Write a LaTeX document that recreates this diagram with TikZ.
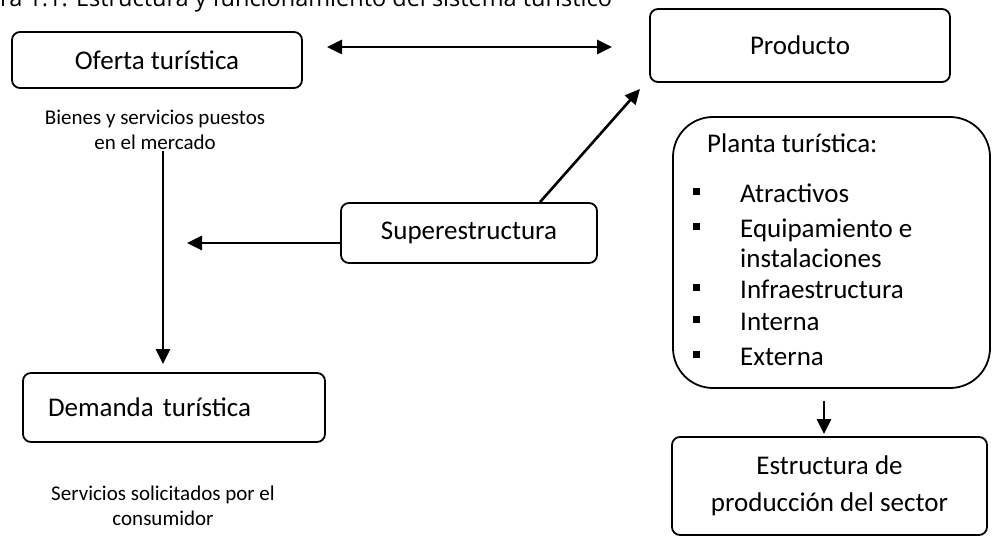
\documentclass[tikz,border=0pt]{standalone}
\usepackage{fontspec}
\setmainfont{Carlito}
\newfontfamily\titlefont{Open Sans}
\usetikzlibrary{arrows.meta}
\begin{document}
\begin{tikzpicture}[x=1pt,y=-1pt,
  box/.style={draw, line width=1.8pt, rounded corners=8pt, inner sep=0pt, align=center, font=\fontsize{27}{37}\selectfont},
  note/.style={align=center, font=\fontsize{21}{25}\selectfont},
  itemtext/.style={anchor=base west, inner sep=0pt, font=\fontsize{27}{33}\selectfont},
  bulletsq/.style={fill=black, minimum size=7pt, inner sep=0pt},
  arr/.style={line width=2.6pt, -{Triangle[length=15pt,width=14pt]}},
  darr/.style={line width=2.6pt, {Triangle[length=15pt,width=14pt]}-{Triangle[length=15pt,width=14pt]}},
  titlef/.style={anchor=base west, inner sep=0pt, font=\titlefont\fontsize{23.5}{28}\selectfont}
]
\useasboundingbox (0,0) rectangle (992,540);
\clip (0,0) rectangle (992,540);
\fill[white] (0,0) rectangle (992,540);

\node[titlef] (title) at (0,7) {ra 1.1. Estructura y funcionamiento del sistema turístico};

\node[box, minimum width=290pt, minimum height=56pt] (oferta) at (157,60) {Oferta turística};
\node[note] (bienes) at (155,130) {Bienes y servicios puestos\\en el mercado};
\node[box, minimum width=300pt, minimum height=73pt] (producto) at (800,45.5) {Producto};
\node[box, minimum width=256pt, minimum height=60pt] (super) at (469,233) {Superestructura};
\node[box, minimum width=302pt, minimum height=69pt, text width=252pt, align=left, inner xsep=25pt] (demanda) at (174,407.5) {Demanda turística};
\node[note] (servicios) at (163,505.5) {Servicios solicitados por el\\consumidor};

\node[box, rounded corners=40pt, minimum width=317pt, minimum height=271pt] (planta) at (831.5,252.5) {};
\node[itemtext] (p0) at (707,153) {Planta turística:};
\node[itemtext] (p1) at (740,202) {Atractivos};
\node[itemtext] (p2) at (740,237) {Equipamiento e};
\node[itemtext] (p3) at (740,267) {instalaciones};
\node[itemtext] (p4) at (740,298) {Infraestructura};
\node[itemtext] (p5) at (740,330) {Interna};
\node[itemtext] (p6) at (740,365) {Externa};
\node[bulletsq] (b1) at (696,191) {};
\node[bulletsq] (b2) at (696,226) {};
\node[bulletsq] (b4) at (696,287) {};
\node[bulletsq] (b5) at (696,319) {};
\node[bulletsq] (b6) at (696,354) {};

\node[box, minimum width=315pt, minimum height=98pt] (estr) at (829.5,486) {Estructura de\\producción del sector};

% connectors
\coordinate (d1) at (327,47);
\coordinate (d2) at (612,47);
\draw[darr] (d1) -- (d2);

\coordinate (v1) at (163,151);
\draw[arr, shorten >=8pt] (v1) -- (v1 |- demanda.north);

\coordinate (l1) at (187,243);
\draw[arr] ([yshift=-10pt]super.west) -- (l1);

\coordinate (dg) at (640,89);
\draw[arr] ([xshift=71pt]super.north) -- (dg);

\draw[arr, shorten <=12pt, shorten >=2pt] ([xshift=-7.5pt]planta.south) -- ([xshift=-5.5pt]estr.north);
\end{tikzpicture}
\end{document}
